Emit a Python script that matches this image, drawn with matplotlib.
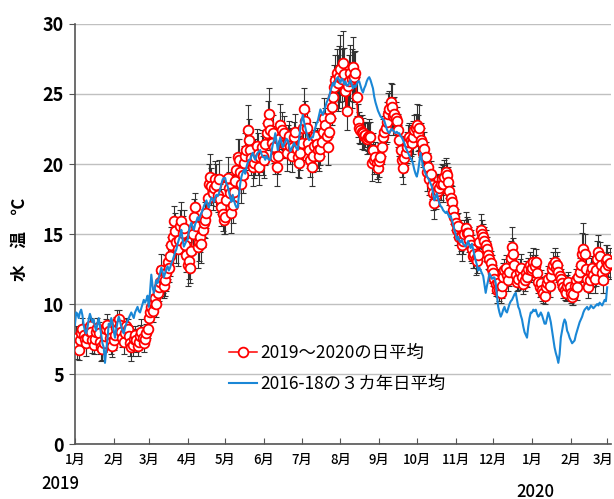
import numpy as np
import pandas as pd
import matplotlib
matplotlib.use("Agg")
import matplotlib.pyplot as plt
import matplotlib.transforms as mtransforms

plt.rcParams['font.family'] = ['Noto Sans CJK JP', 'DejaVu Sans']

# 2019-2020 daily mean water temperature (deg C), one list per month
obs_months = [
    [7.3, 7.6, 7.0, 6.7, 7.4, 7.9, 8.2, 7.8, 7.5, 7.2, 7.6, 8.1, 8.4, 8.0, 7.4, 7.1, 7.5, 8.0, 8.3, 7.9, 7.3, 6.9, 6.8, 7.2, 7.7, 8.2, 8.5, 8.1, 7.6, 7.3, 7.0],
    [7.4, 7.8, 8.3, 8.7, 8.9, 8.5, 8.0, 7.6, 7.3, 7.9, 8.4, 8.2, 7.7, 7.2, 6.9, 7.1, 7.5, 7.8, 7.4, 7.0, 7.3, 7.7, 8.0, 7.6, 7.2, 7.5, 7.9, 8.2],
    [9.0, 9.4, 9.8, 9.5, 10.1, 10.4, 10.0, 10.8, 11.2, 11.6, 12.4, 11.8, 11.3, 11.7, 12.2, 13.0, 12.6, 13.4, 14.2, 14.8, 15.9, 15.2, 14.4, 13.9, 14.6, 15.6, 15.9, 15.1, 15.4, 14.2, 13.5],
    [12.8, 13.1, 12.6, 13.8, 15.0, 16.2, 16.9, 15.6, 14.1, 14.4, 14.8, 14.3, 15.3, 15.8, 16.0, 16.5, 17.6, 18.6, 19.1, 18.4, 17.9, 18.3, 18.9, 18.5, 17.8, 18.9, 17.5, 16.9, 16.4, 16.0],
    [16.2, 17.4, 19.0, 18.3, 17.9, 16.5, 17.1, 18.0, 18.8, 19.6, 20.5, 20.3, 19.4, 18.6, 19.2, 20.1, 20.6, 21.0, 22.4, 21.7, 21.0, 20.4, 19.8, 20.1, 20.5, 21.3, 20.7, 19.8, 20.5, 21.2, 20.6],
    [20.3, 21.4, 22.2, 22.9, 23.6, 22.4, 21.5, 22.2, 21.2, 20.5, 19.8, 20.6, 21.8, 22.8, 22.4, 21.5, 22.2, 21.4, 20.8, 21.6, 22.0, 21.3, 20.6, 21.2, 21.9, 22.3, 21.1, 20.5, 20.1, 20.8],
    [21.5, 22.6, 23.9, 23.1, 22.6, 21.5, 21.0, 20.3, 19.8, 20.6, 21.3, 22.0, 21.4, 21.0, 20.6, 21.1, 21.6, 22.3, 23.3, 22.8, 22.0, 21.2, 22.3, 23.3, 24.1, 24.8, 25.5, 26.0, 26.5, 25.8, 26.2],
    [26.8, 26.1, 27.2, 26.4, 25.2, 23.8, 25.6, 25.9, 26.5, 26.1, 26.9, 26.2, 26.5, 24.8, 23.1, 22.6, 22.4, 22.3, 22.2, 22.0, 22.1, 21.8, 21.9, 22.0, 21.9, 20.1, 21.0, 20.3, 20.5, 20.1, 19.7],
    [20.2, 20.5, 21.2, 21.9, 22.3, 22.6, 23.0, 23.6, 23.9, 24.4, 24.1, 23.4, 23.6, 23.3, 23.1, 22.4, 21.7, 21.0, 20.3, 19.7, 20.4, 20.8, 21.2, 21.6, 21.9, 21.7, 21.5, 21.9, 22.4, 22.6],
    [22.8, 22.2, 22.6, 21.7, 21.5, 20.8, 21.1, 20.5, 19.4, 19.8, 18.9, 19.3, 18.5, 17.9, 17.2, 17.8, 18.4, 18.1, 18.3, 18.6, 18.9, 18.6, 19.1, 19.4, 19.2, 18.7, 18.1, 17.6, 17.3, 16.7, 16.2],
    [15.8, 15.3, 15.6, 14.8, 14.8, 14.2, 14.5, 15.0, 15.4, 15.1, 15.1, 14.6, 14.2, 13.9, 13.4, 13.6, 13.2, 13.1, 13.5, 14.4, 15.3, 15.0, 14.8, 14.5, 14.2, 13.9, 13.5, 13.2, 12.9, 12.5],
    [12.2, 11.8, 11.4, 11.0, 11.5, 11.0, 10.8, 11.3, 11.9, 12.4, 12.6, 12.1, 11.7, 12.3, 13.3, 14.1, 13.6, 12.8, 12.1, 11.6, 11.8, 12.3, 12.6, 11.9, 11.4, 11.7, 12.2, 11.9, 12.5, 12.8, 12.4],
    [12.6, 13.0, 12.7, 13.0, 12.2, 11.6, 11.2, 11.5, 11.0, 10.8, 10.6, 11.2, 11.5, 11.8, 11.3, 12.0, 12.5, 12.8, 13.0, 12.6, 12.8, 12.3, 12.0, 11.8, 11.5, 11.2, 11.0, 10.8, 11.3, 11.6, 11.2],
    [10.8, 10.5, 10.7, 11.3, 11.7, 11.2, 11.9, 12.3, 12.8, 13.6, 13.9, 13.6, 12.5, 11.8, 11.2, 11.7, 12.3, 12.6, 12.1, 11.8, 12.4, 13.2, 13.7, 13.4, 12.8, 12.2, 11.7, 12.5, 13.1],
    [13.2, 12.8, 12.9],
]

# standard deviation of the daily means
err_months = [
    [0.6, 0.8, 0.9, 0.7, 0.5, 0.6, 0.8, 0.7, 0.6, 0.9, 0.7, 0.5, 0.6, 0.8, 0.9, 0.7, 0.6, 0.5, 0.7, 0.8, 0.9, 1.0, 0.8, 0.6, 0.5, 0.7, 0.8, 0.6, 0.7, 0.9, 0.8],
    [0.7, 0.6, 0.8, 0.9, 0.7, 0.6, 0.8, 0.7, 0.9, 0.8, 0.6, 0.7, 0.8, 0.9, 1.0, 0.8, 0.7, 0.6, 0.8, 0.7, 0.6, 0.8, 0.9, 0.7, 0.6, 0.5, 0.7, 0.6],
    [0.6, 0.5, 0.7, 0.8, 0.6, 0.7, 0.9, 0.8, 1.0, 1.1, 1.2, 1.0, 0.9, 1.1, 1.3, 1.2, 1.0, 1.4, 1.3, 1.2, 1.1, 1.3, 1.5, 1.2, 1.0, 1.1, 1.4, 1.2, 1.3, 1.0, 1.2],
    [1.5, 1.3, 1.1, 1.2, 1.4, 1.3, 1.0, 1.2, 1.5, 1.3, 1.1, 1.4, 1.2, 1.0, 1.3, 1.1, 1.2, 1.4, 1.6, 1.3, 1.2, 1.0, 1.3, 1.5, 1.2, 1.4, 1.1, 1.3, 1.2, 1.0],
    [1.2, 1.3, 1.5, 1.1, 1.2, 1.4, 1.3, 1.2, 1.0, 1.1, 1.3, 1.5, 1.2, 1.4, 1.3, 1.2, 1.6, 1.4, 1.8, 1.5, 1.3, 1.2, 1.4, 1.1, 1.3, 1.2, 1.5, 1.3, 1.1, 1.2, 1.4],
    [1.3, 1.5, 1.2, 1.6, 1.8, 1.4, 1.2, 1.3, 1.1, 1.2, 1.4, 1.3, 1.2, 1.5, 1.3, 1.1, 1.2, 1.0, 1.3, 1.2, 1.1, 1.3, 1.2, 1.0, 1.1, 1.3, 1.2, 1.4, 1.1, 1.2],
    [1.2, 1.3, 1.5, 1.4, 1.2, 1.1, 1.3, 1.2, 1.4, 1.2, 1.1, 1.0, 1.2, 1.3, 1.1, 1.2, 1.0, 1.3, 1.4, 1.2, 1.1, 1.3, 1.2, 1.4, 1.3, 1.5, 1.6, 1.8, 1.7, 2.0, 2.2],
    [2.4, 2.1, 2.3, 1.9, 1.6, 1.4, 1.7, 1.9, 2.0, 2.1, 2.2, 1.8, 1.6, 1.4, 1.2, 1.1, 1.0, 1.2, 1.1, 1.0, 0.9, 1.1, 1.0, 1.2, 1.1, 1.3, 1.2, 1.0, 1.1, 1.2, 1.0],
    [1.1, 1.0, 1.2, 1.3, 1.1, 1.2, 1.4, 1.5, 1.3, 1.4, 1.6, 1.3, 1.2, 1.1, 1.0, 1.2, 1.1, 1.0, 1.2, 1.1, 1.0, 0.9, 1.1, 1.2, 1.0, 1.1, 1.3, 1.2, 1.1, 1.0],
    [1.5, 1.3, 1.6, 1.2, 1.1, 1.0, 1.2, 1.1, 1.3, 1.0, 1.1, 0.9, 1.0, 1.2, 1.1, 1.0, 0.9, 1.1, 1.0, 1.2, 1.1, 1.3, 1.2, 1.0, 0.9, 1.1, 1.0, 0.9, 1.1, 1.0, 0.9],
    [1.0, 1.1, 0.9, 1.2, 1.0, 1.1, 0.9, 1.0, 1.2, 1.1, 1.0, 0.9, 1.1, 1.0, 0.8, 1.0, 1.1, 0.9, 1.0, 1.2, 1.1, 1.0, 0.9, 1.0, 1.1, 0.9, 1.0, 0.8, 0.9, 1.0],
    [0.9, 1.0, 0.8, 0.9, 1.0, 0.8, 0.7, 0.9, 1.0, 0.8, 0.9, 0.7, 0.8, 1.0, 1.2, 1.4, 1.1, 0.9, 0.8, 0.7, 0.8, 0.9, 1.0, 0.8, 0.7, 0.8, 0.9, 0.7, 0.8, 0.9, 0.8],
    [0.9, 1.0, 0.8, 0.9, 0.7, 0.8, 0.7, 0.9, 0.8, 0.7, 0.6, 0.8, 0.7, 0.9, 0.8, 0.7, 0.8, 0.9, 1.0, 0.8, 0.9, 0.7, 0.8, 0.7, 0.6, 0.8, 0.7, 0.6, 0.8, 0.7, 0.6],
    [0.7, 0.6, 0.8, 0.7, 0.8, 0.9, 0.8, 1.0, 1.2, 1.5, 1.9, 1.4, 1.1, 0.9, 0.8, 0.9, 1.0, 0.8, 0.9, 1.0, 1.1, 1.3, 1.2, 1.0, 0.9, 0.8, 0.9, 1.0, 1.1],
    [1.0, 0.9, 1.1],
]

# 2016-2018 three-year daily mean, aligned to the same calendar days
ref_months = [
    [8.5, 9.4, 9.3, 9.0, 9.4, 9.6, 9.2, 8.5, 8.1, 7.9, 8.3, 8.9, 9.3, 9.0, 8.7, 8.9, 8.4, 8.1, 8.6, 9.0, 8.4, 7.8, 7.2, 6.9, 5.8, 6.7, 7.5, 8.6, 8.4, 9.0, 8.6],
    [8.1, 7.6, 8.2, 8.7, 9.1, 8.8, 8.4, 8.1, 7.9, 8.3, 8.6, 8.8, 9.0, 9.2, 9.4, 9.2, 9.0, 9.4, 9.6, 9.8, 9.5, 9.4, 9.7, 10.0, 10.3, 10.1, 10.3, 10.6],
    [9.8, 10.9, 12.1, 11.3, 10.8, 11.2, 11.7, 11.5, 11.9, 12.2, 12.6, 12.3, 11.9, 12.2, 12.5, 12.7, 12.4, 12.6, 12.9, 13.1, 13.4, 13.7, 13.9, 14.3, 14.6, 14.9, 15.3, 14.6, 14.1, 14.3, 14.5],
    [14.6, 15.2, 15.6, 15.8, 15.5, 15.3, 15.7, 15.9, 16.2, 16.0, 16.3, 16.5, 16.7, 17.0, 17.2, 17.4, 17.1, 16.9, 17.3, 17.6, 17.5, 17.3, 17.6, 17.8, 17.7, 17.9, 18.2, 18.6, 18.9, 19.0],
    [19.0, 18.6, 18.4, 18.0, 17.6, 17.3, 17.8, 17.4, 17.1, 16.9, 16.9, 17.8, 18.6, 19.1, 19.4, 19.6, 19.3, 19.8, 20.1, 20.3, 20.3, 20.6, 20.8, 20.5, 20.3, 20.6, 20.8, 20.9, 21.0, 20.7, 20.5],
    [20.5, 20.3, 20.6, 20.4, 20.3, 20.3, 20.9, 21.4, 21.7, 22.2, 21.6, 21.0, 21.5, 21.9, 21.5, 21.2, 21.4, 21.6, 21.8, 21.7, 21.3, 20.9, 21.1, 21.3, 21.5, 21.3, 21.1, 21.0, 21.8, 22.6],
    [23.1, 23.5, 23.0, 22.6, 22.2, 21.9, 21.7, 21.8, 21.9, 21.9, 22.3, 22.6, 22.9, 23.1, 23.5, 23.9, 23.7, 23.5, 23.8, 24.1, 24.4, 24.6, 24.8, 25.2, 25.5, 25.8, 25.6, 25.9, 26.1, 26.2, 26.0],
    [25.8, 26.1, 26.0, 25.7, 25.9, 25.6, 25.6, 25.8, 26.0, 25.7, 25.4, 25.6, 25.5, 25.7, 25.9, 25.9, 25.6, 25.3, 25.1, 25.4, 25.6, 25.9, 26.1, 26.2, 26.0, 25.7, 25.4, 24.8, 24.4, 24.1, 23.8],
    [23.6, 23.4, 23.3, 23.2, 23.1, 22.8, 22.5, 22.3, 22.2, 22.4, 22.5, 22.4, 22.3, 22.2, 22.3, 22.2, 22.2, 22.0, 21.9, 21.7, 21.5, 21.2, 21.0, 20.8, 20.6, 20.4, 20.3, 20.0, 19.6, 19.3],
    [19.1, 19.5, 20.1, 20.8, 20.3, 19.8, 19.6, 19.3, 19.1, 19.0, 18.8, 18.6, 18.4, 17.9, 17.4, 17.6, 17.9, 17.5, 17.2, 17.0, 16.9, 16.7, 16.6, 16.5, 16.6, 16.4, 16.2, 16.3, 16.0, 15.7, 15.3],
    [15.0, 14.6, 14.8, 14.5, 14.4, 14.6, 14.3, 14.2, 14.1, 14.3, 14.5, 14.2, 14.0, 14.3, 13.9, 13.5, 13.1, 12.8, 12.4, 12.6, 12.4, 12.2, 12.0, 11.4, 10.8, 11.3, 11.7, 12.2, 12.0, 11.8],
    [11.9, 11.9, 11.5, 10.6, 9.8, 9.4, 9.1, 9.3, 9.6, 9.8, 9.5, 9.4, 9.7, 10.0, 10.2, 10.3, 10.5, 10.7, 10.8, 10.3, 9.8, 9.6, 9.2, 8.9, 8.4, 8.0, 7.8, 7.6, 8.4, 9.0, 9.4],
    [9.4, 9.6, 9.5, 9.6, 9.3, 9.1, 9.2, 9.4, 9.2, 8.9, 8.6, 8.6, 9.0, 9.4, 9.1, 8.7, 8.1, 7.5, 6.9, 6.5, 6.2, 5.8, 6.4, 7.6, 8.1, 8.6, 8.9, 8.7, 8.1, 7.9, 7.6],
    [7.4, 7.2, 7.3, 7.4, 7.8, 8.1, 8.4, 8.7, 8.9, 9.1, 9.4, 9.6, 9.7, 9.8, 9.6, 9.7, 9.9, 9.8, 9.7, 9.8, 9.9, 10.0, 9.9, 10.1, 10.0, 9.9, 10.1, 10.3, 10.2],
    [11.2],
]

month_labels = ['1月', '2月', '3月', '4月', '5月', '6月', '7月', '8月', '9月',
                '10月', '11月', '12月', '1月', '2月', '3月']

obs = np.concatenate(obs_months)
err = np.concatenate(err_months)
ref = np.concatenate(ref_months)
obs_dates = pd.date_range('2019-01-01', periods=len(obs), freq='D')
ref_dates = pd.date_range('2019-01-01', periods=len(ref), freq='D')

fig = plt.figure(figsize=(6.14, 4.99), dpi=100)
ax = fig.add_axes([0.122, 0.110, 0.873, 0.842])

ax.errorbar(obs_dates, obs, yerr=err, fmt='none', ecolor='#333333',
            elinewidth=0.8, capsize=2, capthick=0.8, zorder=2)
ax.plot(obs_dates, obs, '-o', color='#ff0000', lw=1.1, ms=7,
        mfc='white', mec='#ff0000', mew=1.3, zorder=3,
        label='2019～2020の日平均')
ax.plot(ref_dates, ref, '-', color='#1a87d6', lw=1.5, zorder=4,
        label='2016-18の３カ年日平均')

ax.set_ylim(0, 30)
ax.set_yticks(range(0, 31, 5))
ax.set_xlim(pd.Timestamp('2019-01-01'), pd.Timestamp('2020-03-04'))
ticks = pd.date_range('2019-01-01', '2020-03-01', freq='MS')
ax.set_xticks(ticks)
ax.set_xticklabels(month_labels)

ax.grid(axis='y', color='#c0c0c0', lw=1)
ax.set_axisbelow(True)
for s in ['top', 'right']:
    ax.spines[s].set_visible(False)
for s in ['left', 'bottom']:
    ax.spines[s].set_color('#555555')
    ax.spines[s].set_linewidth(1.2)
ax.tick_params(axis='y', direction='out', length=4, labelsize=13, colors='#555555',
               labelcolor='black', pad=4)
ax.tick_params(axis='x', direction='in', length=4, labelsize=9.5, colors='#555555',
               labelcolor='black', pad=6)
for lbl in ax.get_yticklabels():
    lbl.set_fontweight('bold')
for lbl in ax.get_xticklabels():
    lbl.set_fontweight('medium')
# nudge the last month label so it stays inside the figure
last = ax.get_xticklabels()[-1]
last.set_transform(last.get_transform() +
                   mtransforms.ScaledTranslation(-4 / 100, 0, fig.dpi_scale_trans))

# y-axis title placed by hand, left of the tick labels
fig.text(20 / 614, 1 - 239 / 499, '水　温　℃', rotation=90, fontsize=12,
         fontweight='bold', ha='center', va='center')

fig.text(0.098, 0.020, '2019', fontsize=12, ha='center', fontweight='medium')
fig.text(0.872, 0.005, '2020', fontsize=12, ha='center', fontweight='medium')

ax.legend(loc='center', bbox_to_anchor=(0.49, 0.18), frameon=False,
          fontsize=12.5, handlelength=1.6, handletextpad=0.2, labelspacing=0.75)

fig.savefig('out.png', dpi=100)
